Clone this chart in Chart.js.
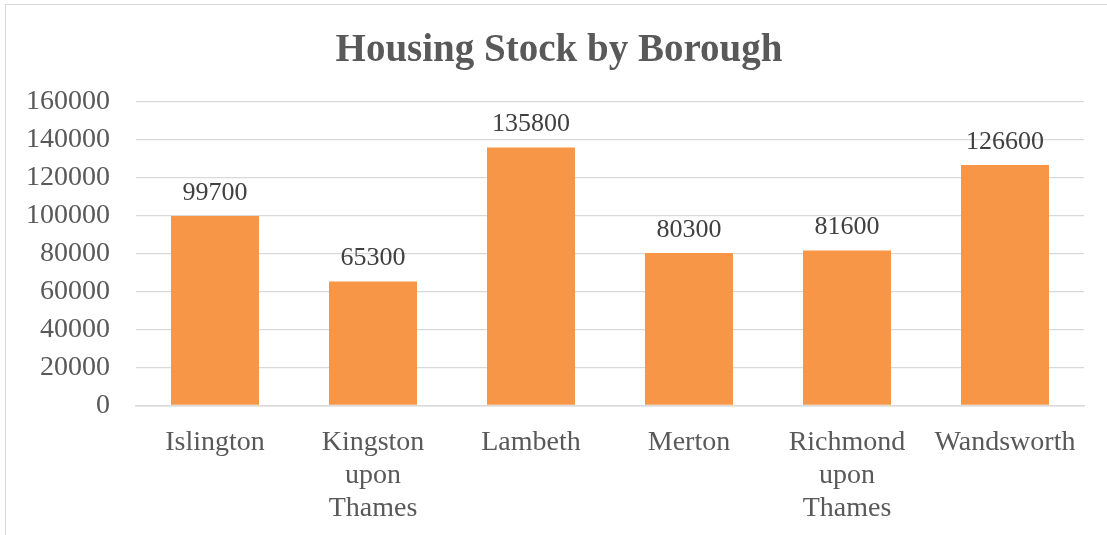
<!DOCTYPE html>
<html>
<head>
<meta charset="utf-8">
<script src="https://cdn.jsdelivr.net/npm/chart.js@4"></script>
<style>
  html, body { margin: 0; padding: 0; background: #fff; overflow: hidden; }
  #frame { position: absolute; left: 5px; top: 4px; width: 1120px; height: 600px; border: 1px solid #d9d9d9; }
  #wrap { position: absolute; left: 0; top: 0; width: 1107px; height: 535px; }
</style>
</head>
<body>
<div id="frame"></div>
<div id="wrap"><canvas id="stockChart"></canvas></div>
<script>
// data
const boroughs = [
	['Islington'],
	['Kingston', 'upon', 'Thames'],
	['Lambeth'],
	['Merton'],
	['Richmond', 'upon', 'Thames'],
	['Wandsworth']
];
const housingStock = [99700, 65300, 135800, 80300, 81600, 126600];
const yTicks = [0, 20000, 40000, 60000, 80000, 100000, 120000, 140000, 160000];
const chartTitle = 'Housing Stock by Borough';

const FONT = "'Liberation Serif', 'Times New Roman', serif";

// values printed above each bar, plus the title (centred on the whole frame)
const barLabels = {
	id: 'barLabels',
	afterDatasetsDraw(chart) {
		const ctx = chart.ctx;
		const meta = chart.getDatasetMeta(0);
		ctx.save();
		ctx.font = '26px ' + FONT;
		ctx.fillStyle = '#404040';
		ctx.textAlign = 'center';
		ctx.textBaseline = 'alphabetic';
		meta.data.forEach((bar, i) => {
			ctx.fillText(String(housingStock[i]), bar.x, bar.y - 16);
		});

		ctx.font = 'bold 39px ' + FONT;
		ctx.fillStyle = '#595959';
		ctx.fillText(chartTitle, 559, 61);
		ctx.restore();
	}
};

const ctx = document.getElementById('stockChart').getContext('2d');
new Chart(ctx, {
	type: 'bar',
	data: {
		labels: boroughs,
		datasets: [{
			label: 'Housing Stock',
			data: housingStock,
			backgroundColor: '#f79646',
			borderWidth: 0,
			barPercentage: 1,
			categoryPercentage: 0.557
		}]
	},
	options: {
		responsive: true,
		maintainAspectRatio: false,
		animation: false,
		layout: { padding: { left: 0, right: 23, top: 101.5, bottom: 0 } },
		scales: {
			x: {
				grid: { display: false },
				border: { display: true, color: '#d9d9d9', width: 1.5 },
				ticks: {
					color: '#595959',
					font: { family: FONT, size: 28, lineHeight: '33px' },
					padding: 13,
					maxRotation: 0,
					autoSkip: false
				},
				afterFit(scale) { scale.height = 129.5; }
			},
			y: {
				min: 0,
				max: 160000,
				afterBuildTicks(scale) { scale.ticks = yTicks.map(v => ({ value: v })); },
				grid: { color: '#d9d9d9', lineWidth: 1.3, drawTicks: false },
				border: { display: false },
				ticks: {
					color: '#595959',
					font: { family: FONT, size: 28 },
					padding: 26,
					callback: v => String(v)
				},
				afterFit(scale) { scale.width = 136; }
			}
		},
		plugins: {
			legend: { display: false },
			tooltip: { enabled: false },
			title: { display: false }
		}
	},
	plugins: [barLabels]
});
</script>
</body>
</html>
